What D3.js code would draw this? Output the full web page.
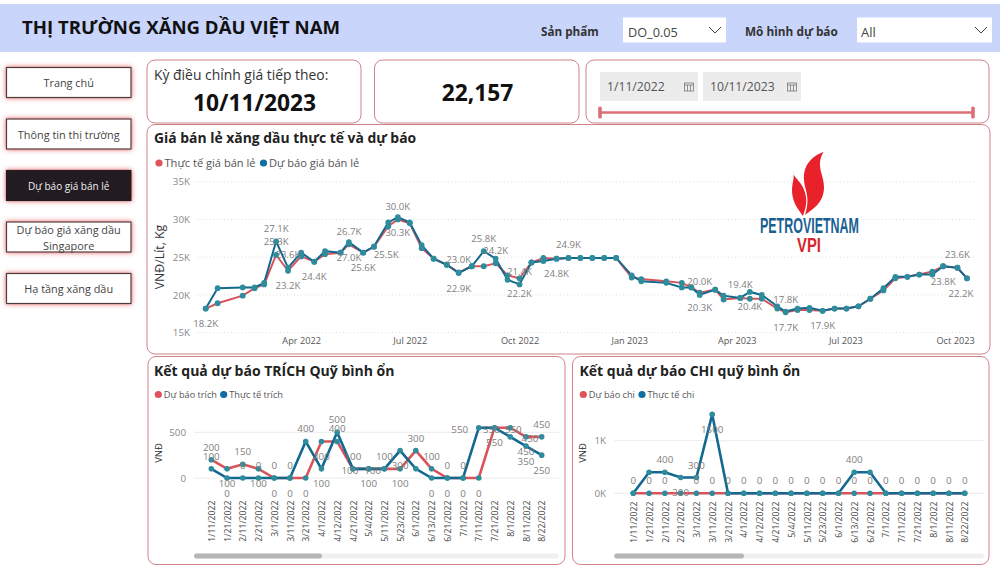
<!DOCTYPE html>
<html>
<head>
<meta charset="utf-8">
<script src="https://cdn.jsdelivr.net/npm/d3@7"></script>
<style>
  html, body { margin: 0; padding: 0; background: #fff; overflow: hidden; }
  text { font-family: "Open Sans", "Noto Sans", sans-serif; }
</style>
</head>
<body>
<div id="chart"></div>
<script>
// main chart data
var main_dates = [
  '1/11/2022','1/21/2022','2/11/2022','2/21/2022','3/1/2022','3/11/2022','3/21/2022','4/1/2022','4/12/2022','4/21/2022',
  '5/4/2022','5/11/2022','5/23/2022','6/1/2022','6/13/2022','6/21/2022','7/1/2022','7/11/2022','7/21/2022','8/1/2022',
  '8/11/2022','8/22/2022','9/1/2022','9/11/2022','9/21/2022','10/1/2022','10/11/2022','10/21/2022','11/1/2022','11/11/2022',
  '11/21/2022','12/1/2022','12/11/2022','12/21/2022','1/3/2023','1/11/2023','2/1/2023','2/14/2023','2/22/2023','3/1/2023',
  '3/14/2023','3/21/2023','4/4/2023','4/12/2023','4/22/2023','5/5/2023','5/12/2023','5/22/2023','6/1/2023','6/12/2023',
  '6/22/2023','7/2/2023','7/12/2023','7/22/2023','8/2/2023','8/12/2023','8/22/2023','9/1/2023','9/12/2023','9/21/2023',
  '10/3/2023','10/11/2023'
];
var main_actual = [
  18200,18900,19900,20900,21400,25300,23200,25100,24400,25400,
  25600,26700,25600,26400,29100,30000,29500,26200,24800,24000,
  23000,23800,23800,24200,22600,22200,24300,24900,24800,24900,
  24900,24900,24900,24900,22300,22100,21800,21600,21000,20300,
  20700,19400,19600,19500,19500,18200,17700,18000,18000,17900,
  18200,18200,18500,19500,20600,22200,22400,22700,23100,23800,
  23600,22200
];
var main_forecast = [
  18200,20900,21000,21000,21600,27100,23600,25600,24400,25800,
  25600,27000,25600,26400,29600,30300,29600,26600,24800,24000,
  22900,23800,25800,24800,22000,21400,24300,24500,24800,24900,
  24900,24900,24900,24900,22600,21800,21600,21000,21000,20000,
  20700,19900,19600,20400,20000,18500,17800,18200,18300,17900,
  18200,18200,18500,19500,20900,22400,22400,22700,22700,23800,
  23600,22200
];
var main_ticks_y = [15000, 20000, 25000, 30000, 35000];

// data labels of the main chart: date, text, series it sits on, side
var main_label_dates = ['1/11/2022','3/11/2022','3/11/2022','3/21/2022','3/21/2022','4/12/2022','5/11/2022','5/11/2022','5/23/2022','6/13/2022','6/21/2022','6/21/2022','8/11/2022','8/11/2022','9/1/2022','9/11/2022','10/1/2022','10/1/2022','11/1/2022','11/11/2022','3/1/2023','3/1/2023','4/4/2023','4/12/2023','5/12/2023','5/12/2023','6/12/2023','9/21/2023','10/3/2023','10/11/2023'];
var main_label_text = ['18.2K','27.1K','25.3K','23.6K','23.2K','24.4K','26.7K','27.0K','25.6K','25.5K','30.0K','30.3K','23.0K','22.9K','25.8K','24.2K','21.4K','22.2K','24.8K','24.9K','20.0K','20.3K','19.4K','20.4K','17.8K','17.7K','17.9K','23.8K','23.6K','22.2K'];
var main_label_series = ['a','f','a','f','a','a','a','f','a','a','a','f','a','f','f','a','f','a','a','a','f','a','a','f','a','a','a','a','a','a'];
var main_label_side = ['b','a','a','a','b','b','a','b','b','B','a','b','a','b','a','a','a','b','b','a','a','b','a','b','a','b','b','b','a','b'];

// lower charts data
var fund_dates = ['1/11/2022','1/21/2022','2/11/2022','2/21/2022','3/1/2022','3/11/2022','3/21/2022','4/1/2022','4/12/2022','4/21/2022','5/4/2022','5/11/2022','5/23/2022','6/1/2022','6/13/2022','6/21/2022','7/1/2022','7/11/2022','7/21/2022','8/1/2022','8/11/2022','8/22/2022'];
var trich_forecast = [200,100,150,100,0,0,0,400,400,100,100,100,100,300,100,0,0,0,550,550,450,450];
var trich_actual = [100,0,0,0,0,0,400,100,500,100,100,100,300,100,0,0,0,550,550,450,350,250];
var trich_forecast_side = ['a','b','a','b','a','a','b','b','a','a','n','a','b','a','a','a','a','b','b','r','b','a'];
var trich_actual_side = ['a','b','a','a','b','b','a','b','a','m','b','-','b','-','b','b','b','l','m','-','b','b'];
var chi_forecast = [0,0,0,0,0,0,0,0,0,0,0,0,0,0,0,0,0,0,0,0,0,0];
var chi_actual = [0,400,400,300,300,1500,0,0,0,0,0,0,0,0,400,400,0,0,0,0,0,0];
var chi_forecast_side = ['a','a','a','-','a','a','a','a','a','a','a','a','a','a','a','a','a','a','a','a','a','a'];
var chi_actual_side = ['-','-','a','b','a','b','-','-','-','-','-','-','-','-','a','-','-','-','-','-','-','-'];

var nav_items = ['Trang chủ', 'Thông tin thị trường', 'Dự báo giá bán lẻ', 'Dự báo giá xăng dầu|Singapore', 'Hạ tầng xăng dầu'];

var RED = '#d9535b', BLUE = '#12688f', DOT = '#2f8c9c';
var parse_date = d3.timeParse('%m/%d/%Y');

var svg = d3.select('#chart').append('svg')
    .attr('width', 1000).attr('height', 570)
    .style('display', 'block');

// glow behind the nav buttons
var glow = svg.append('defs').append('filter').attr('id', 'glow')
    .attr('x', '-10%').attr('y', '-30%').attr('width', '120%').attr('height', '160%');
glow.append('feDropShadow')
    .attr('dx', 0).attr('dy', 0).attr('stdDeviation', 2.4)
    .attr('flood-color', '#e0525a').attr('flood-opacity', 0.95);

function label(x, y, txt, size, color, weight, anchor) {
    return svg.append('text')
        .attr('x', x).attr('y', y)
        .attr('dy', '0.36em')
        .attr('font-size', size)
        .attr('fill', color)
        .attr('font-weight', weight || 400)
        .attr('text-anchor', anchor || 'start')
        .text(txt);
}

function card(x0, y0, x1, y1) {
    svg.append('rect')
        .attr('x', x0).attr('y', y0)
        .attr('width', x1 - x0).attr('height', y1 - y0)
        .attr('rx', 8).attr('ry', 8)
        .attr('fill', '#fff')
        .attr('stroke', '#cf8288').attr('stroke-width', 1);
}

function chevron(cx, cy) {
    svg.append('path')
        .attr('d', 'M' + (cx - 6) + ',' + (cy - 3) + 'L' + cx + ',' + (cy + 3) + 'L' + (cx + 6) + ',' + (cy - 3))
        .attr('fill', 'none').attr('stroke', '#444').attr('stroke-width', 1);
}

function calendar(x, y) {
    svg.append('rect').attr('x', x).attr('y', y).attr('width', 9).attr('height', 8)
        .attr('fill', 'none').attr('stroke', '#777').attr('stroke-width', 0.8);
    svg.append('path').attr('d', 'M' + x + ',' + (y + 2) + 'h9M' + (x + 3) + ',' + (y + 2) + 'v6M' + (x + 6) + ',' + (y + 2) + 'v6')
        .attr('stroke', '#777').attr('stroke-width', 0.8);
}

// header
svg.append('rect').attr('x', 0).attr('y', 4).attr('width', 1000).attr('height', 48).attr('fill', '#c9d5fb');
label(22, 27.5, 'THỊ TRƯỜNG XĂNG DẦU VIỆT NAM', 18.6, '#111', 700);
label(541, 32, 'Sản phẩm', 11.7, '#333', 700);
svg.append('rect').attr('x', 623).attr('y', 17.5).attr('width', 103).attr('height', 25).attr('fill', '#fff');
label(628, 32, 'DO_0.05', 12.7, '#444');
chevron(715, 30);
label(745, 32, 'Mô hình dự báo', 11.8, '#333', 700);
svg.append('rect').attr('x', 857).attr('y', 17.5).attr('width', 135).attr('height', 25).attr('fill', '#fff');
label(861, 32, 'All', 13, '#444');
chevron(981, 30);

// nav buttons
var nav_step = 51.5;
nav_items.forEach(function(item, i) {
    var top = 67.5 + i * nav_step, active = i == 2;
    svg.append('rect')
        .attr('x', 6.5).attr('y', top)
        .attr('width', 124.5).attr('height', 30)
        .attr('fill', active ? '#231f20' : '#fff')
        .attr('stroke', active ? '#231f20' : '#4e3c3e').attr('stroke-width', 1.2)
        .attr('filter', 'url(#glow)');
    var lines = item.split('|');
    lines.forEach(function(line, j) {
        label(68.7, top + 16 + (j - (lines.length - 1) / 2) * 16, line, active ? 10 : 10.9, active ? '#eee' : '#444', 400, 'middle');
    });
});

// top cards
card(147, 60, 361, 123);
label(154, 74.5, 'Kỳ điều chỉnh giá tiếp theo:', 13.9, '#333');
label(254.5, 103, '10/11/2023', 22.8, '#111', 700, 'middle');
card(374.5, 60, 579, 123);
label(477.5, 93, '22,157', 22.8, '#111', 700, 'middle');
card(586, 60, 989, 123);
svg.append('rect').attr('x', 600).attr('y', 72).attr('width', 98).attr('height', 29).attr('fill', '#ececec');
svg.append('rect').attr('x', 703).attr('y', 72).attr('width', 98).attr('height', 29).attr('fill', '#ececec');
label(607, 87, '1/11/2022', 12.2, '#555');
label(710, 87, '10/11/2023', 12.2, '#555');
calendar(684.5, 83);
calendar(787.5, 83);
svg.append('line').attr('x1', 600).attr('x2', 973).attr('y1', 112.5).attr('y2', 112.5).attr('stroke', '#dc6f76').attr('stroke-width', 2.4);
[600, 973].forEach(function(x) {
    svg.append('rect').attr('x', x - 1.8).attr('y', 106.5).attr('width', 3.6).attr('height', 12).attr('rx', 1.5).attr('fill', '#dc6f76');
});

// chart cards
card(147, 124.5, 990, 354);
card(148, 356.5, 565, 564.5);
card(572.5, 356.5, 989, 564.5);

// legend helper
function legend(y, title_x, title_y, title, size, title_size, items) {
    label(title_x, title_y, title, title_size, '#222', 700);
    items.forEach(function(it) {
        svg.append('circle').attr('cx', it.x).attr('cy', y).attr('r', 3.6).attr('fill', it.color);
        label(it.x + 5.5, y, it.text, size, '#555');
    });
}

legend(163, 154, 138, 'Giá bán lẻ xăng dầu thực tế và dự báo', 11.1, 13.9, [
    {x: 159, color: '#e0525a', text: 'Thực tế giá bán lẻ'},
    {x: 263.5, color: '#0f6fa3', text: 'Dự báo giá bán lẻ'}
]);
legend(394.5, 154, 370.5, 'Kết quả dự báo TRÍCH Quỹ bình ổn', 9.2, 14, [
    {x: 158.3, color: '#e0525a', text: 'Dự báo trích'},
    {x: 223.7, color: '#0f6fa3', text: 'Thực tế trích'}
]);
legend(394.5, 579.5, 370.5, 'Kết quả dự báo CHI quỹ bình ổn', 9.2, 14, [
    {x: 583.3, color: '#e0525a', text: 'Dự báo chi'},
    {x: 642, color: '#0f6fa3', text: 'Thực tế chi'}
]);

// ---- main chart ----
var main_parsed = main_dates.map(parse_date);
var x_main = d3.scaleTime()
    .domain([parse_date('1/11/2022'), parse_date('10/11/2023')])
    .range([205.7, 967]);
var y_main = d3.scaleLinear().domain([15000, 35000]).range([332.7, 181.7]);

var y_axis_main = svg.append('g')
    .attr('transform', 'translate(190,0)')
    .call(d3.axisLeft(y_main).tickValues(main_ticks_y).tickSize(0).tickPadding(0)
        .tickFormat(function(d) { return d / 1000 + 'K'; }));
y_axis_main.select('.domain').remove();
y_axis_main.selectAll('text').attr('fill', '#8a8a8a').attr('font-size', 9.8).attr('font-family', null);

svg.append('g').selectAll('line')
    .data(main_ticks_y).enter().append('line')
    .attr('x1', 196).attr('x2', 975)
    .attr('y1', function(d) { return y_main(d); })
    .attr('y2', function(d) { return y_main(d); })
    .attr('stroke', '#dfdfdf').attr('stroke-width', 1).attr('stroke-dasharray', '1,2.5');

var x_axis_main = svg.append('g')
    .attr('transform', 'translate(0,337)')
    .call(d3.axisBottom(x_main).ticks(d3.timeMonth.every(3)).tickSize(0).tickPadding(0)
        .tickFormat(d3.timeFormat('%b %Y')));
x_axis_main.select('.domain').remove();
x_axis_main.selectAll('text').attr('fill', '#555').attr('font-size', 9.2).attr('font-family', null).attr('dy', '0.71em');

svg.append('text')
    .attr('transform', 'translate(160,257) rotate(-90)')
    .attr('text-anchor', 'middle').attr('dy', '0.36em')
    .attr('font-size', 12.3).attr('fill', '#333')
    .text('VNĐ/Lít, Kg');

// logo
var logo = svg.append('g');
logo.append('path')
    .attr('d', 'M823.5,152 C812,156 803,165 804,180 C804.5,190 811,197 805,215 C813,209 823.5,203 824,188 C824.5,175 815,166 823.5,152 Z')
    .attr('fill', '#e8212a');
logo.append('path')
    .attr('d', 'M793,172 C793,178 804,182 806,197 C807,204 805,210 803,216 C797,208 792,201 792,190 C792,182 795,178 793,172 Z')
    .attr('fill', '#e8212a');
logo.append('text')
    .attr('x', 760).attr('y', 232.5)
    .attr('textLength', 99).attr('lengthAdjust', 'spacingAndGlyphs')
    .attr('font-size', 22).attr('font-weight', 700)
    .style('font-family', '"Liberation Sans Narrow", "Liberation Sans"')
    .attr('fill', '#1a5f92')
    .text('PETROVIETNAM');
logo.append('text')
    .attr('x', 797).attr('y', 251.5)
    .attr('textLength', 24).attr('lengthAdjust', 'spacingAndGlyphs')
    .attr('font-size', 21).attr('font-weight', 700)
    .style('font-family', '"Liberation Sans Narrow", "Liberation Sans"')
    .attr('fill', '#d9262e')
    .text('VPI');

var main_line = d3.line()
    .x(function(d) { return x_main(d.date); })
    .y(function(d) { return y_main(d.value); });

var main_actual_pts = main_parsed.map(function(d, i) { return {date: d, value: main_actual[i]}; });
var main_forecast_pts = main_parsed.map(function(d, i) { return {date: d, value: main_forecast[i]}; });

[[main_actual_pts, RED], [main_forecast_pts, BLUE]].forEach(function(s) {
    svg.append('path').datum(s[0])
        .attr('d', main_line)
        .attr('fill', 'none').attr('stroke', s[1]).attr('stroke-width', 2);
});
[main_actual_pts, main_forecast_pts].forEach(function(pts) {
    svg.append('g').selectAll('circle')
        .data(pts).enter().append('circle')
        .attr('cx', function(d) { return x_main(d.date); })
        .attr('cy', function(d) { return y_main(d.value); })
        .attr('r', 2.9).attr('fill', DOT);
});

// main labels
var main_offsets = {a: -13, b: 15, B: 28};
main_label_text.forEach(function(txt, i) {
    var idx = main_dates.indexOf(main_label_dates[i]);
    var val = main_label_series[i] == 'f' ? main_forecast[idx] : main_actual[idx];
    var px = Math.min(x_main(main_parsed[idx]), 961);
    if (txt == '25.5K') px -= 2;
    label(px, y_main(val) + main_offsets[main_label_side[i]], txt, 9.6, '#808080', 400, 'middle');
});

// ---- lower charts ----
function fund_chart(opts) {
    var x = d3.scalePoint().domain(fund_dates).range(opts.x_range);
    var y = d3.scaleLinear().domain([0, opts.top]).range([opts.y0, opts.y_top]);

    var y_axis = svg.append('g')
        .attr('transform', 'translate(' + opts.axis_x + ',0)')
        .call(d3.axisLeft(y).tickValues(opts.ticks).tickSize(0).tickPadding(0).tickFormat(opts.tick_format));
    y_axis.select('.domain').remove();
    y_axis.selectAll('text').attr('fill', '#8a8a8a').attr('font-size', 9.8).attr('font-family', null);

    svg.append('g').selectAll('line')
        .data(opts.ticks).enter().append('line')
        .attr('x1', opts.grid[0]).attr('x2', opts.grid[1])
        .attr('y1', function(d) { return y(d); })
        .attr('y2', function(d) { return y(d); })
        .attr('stroke', '#ececec').attr('stroke-width', 1);

    var x_axis = svg.append('g')
        .attr('transform', 'translate(0,' + opts.x_axis_y + ')')
        .call(d3.axisBottom(x).tickSize(0).tickPadding(0));
    x_axis.select('.domain').remove();
    x_axis.selectAll('text')
        .attr('font-family', null).attr('font-size', 8.7).attr('fill', '#444')
        .attr('text-anchor', 'end').attr('dy', '0.36em').attr('y', 0)
        .attr('transform', 'rotate(-90)');

    svg.append('text')
        .attr('transform', 'translate(' + opts.title_x + ',453) rotate(-90)')
        .attr('text-anchor', 'middle').attr('dy', '0.36em')
        .attr('font-size', 9.5).attr('fill', '#333')
        .text('VNĐ');

    var line = d3.line()
        .x(function(d, i) { return x(fund_dates[i]); })
        .y(function(d) { return y(d); });

    [[opts.forecast, RED], [opts.actual, BLUE]].forEach(function(s) {
        svg.append('path').datum(s[0])
            .attr('d', line)
            .attr('fill', 'none').attr('stroke', s[1]).attr('stroke-width', 2.6);
    });
    [opts.forecast, opts.actual].forEach(function(vals) {
        svg.append('g').selectAll('circle')
            .data(vals).enter().append('circle')
            .attr('cx', function(d, i) { return x(fund_dates[i]); })
            .attr('cy', function(d) { return y(d); })
            .attr('r', 2.8).attr('fill', DOT);
    });

    // data labels above, below, or beside the point
    var shifts = {a: [0, -12.5], b: [0, 15], m: [-3, 1.5], n: [4, 1.5], l: [-19, 1.5], r: [3, 1.5]};
    [[opts.forecast, opts.forecast_side], [opts.actual, opts.actual_side]].forEach(function(s) {
        s[0].forEach(function(v, i) {
            if (s[1][i] == '-') return;
            var sh = shifts[s[1][i]];
            label(x(fund_dates[i]) + sh[0], y(v) + sh[1], v, 9.8, '#808080', 400, 'middle');
        });
    });
    // second label the reference shows beside one point
    if (opts.extra_idx != null) {
        label(x(fund_dates[opts.extra_idx]) + 4, y(opts.forecast[opts.extra_idx]) + 1.5, opts.forecast[opts.extra_idx], 9.8, '#808080', 400, 'middle');
    }

    // scrollbar
    svg.append('rect').attr('x', opts.scroll[0]).attr('y', 553.5).attr('width', opts.scroll[2] - opts.scroll[0]).attr('height', 5).attr('rx', 2.5).attr('fill', '#f0f0f0');
    svg.append('rect').attr('x', opts.scroll[0]).attr('y', 553.5).attr('width', opts.scroll[1] - opts.scroll[0]).attr('height', 5).attr('rx', 2.5).attr('fill', '#b5b5b5');
}

fund_chart({
    x_range: [211.3, 541.7], y0: 478, y_top: 432.3, top: 500,
    ticks: [0, 500], axis_x: 186, grid: [194, 559], x_axis_y: 500.5, title_x: 158.7,
    tick_format: function(d) { return d; },
    forecast: trich_forecast, actual: trich_actual,
    forecast_side: trich_forecast_side, actual_side: trich_actual_side,
    extra_idx: 20,
    scroll: [194, 322, 559]
});
fund_chart({
    x_range: [633.3, 964.7], y0: 493.3, y_top: 440.7, top: 1000,
    ticks: [0, 1000], axis_x: 606, grid: [614, 984], x_axis_y: 501.5, title_x: 582.7,
    tick_format: function(d) { return d / 1000 + 'K'; },
    forecast: chi_forecast, actual: chi_actual,
    forecast_side: chi_forecast_side, actual_side: chi_actual_side,
    scroll: [614.3, 744, 984.3]
});
</script>
</body>
</html>
